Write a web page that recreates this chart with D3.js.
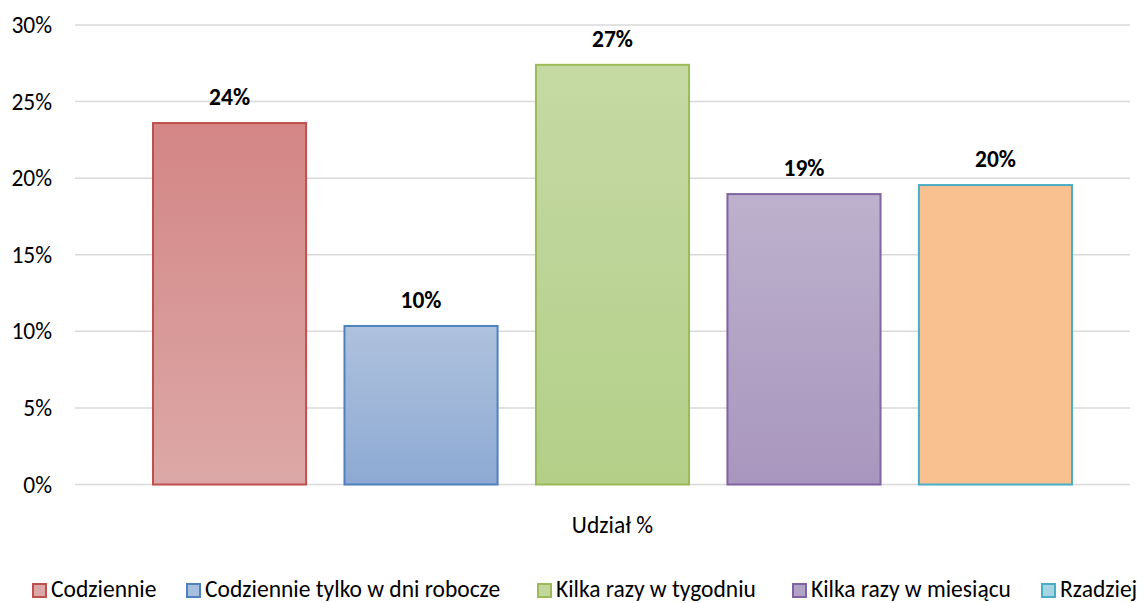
<!DOCTYPE html>
<html><head><meta charset="utf-8">
<script src="https://cdn.jsdelivr.net/npm/d3@7"></script>
<style>
html,body{margin:0;padding:0;background:#fff;}
svg text{font-family:Carlito,Calibri,Lato,sans-serif;}
</style></head>
<body><svg id="c" width="1147" height="603"></svg>
<script>
const categories = ["Codziennie","Codziennie tylko w dni robocze","Kilka razy w tygodniu","Kilka razy w miesiącu","Rzadziej"];
const values = [23.6, 10.35, 27.4, 18.96, 19.55];
const yTicks = [0,5,10,15,20,25,30];
const axisLabel = "Udział %";
const topColors = ["#d38685","#afc2de","#c5d9a4","#bdb1cd","#f9c18f"];
const bottomColors = ["#dca8a7","#8da9d3","#b3cf88","#a996be","#f9c18f"];
const strokeColors = ["#c0504d","#4f81bd","#9bbb59","#8064a2","#4bacc6"];
const legendFills = ["#dca8a7","#a7bfde","#c3d69b","#b3a2c7","#a5d5e2"];

const FS = 23.5;
const svg = d3.select("#c");
const y = d3.scaleLinear().domain([0,30]).range([484.5,25]);
const x = d3.scaleBand().domain(categories).range([152,1073]).paddingInner(0.19).paddingOuter(0);

const defs = svg.append("defs");
categories.forEach((c,i)=>{
  const g = defs.append("linearGradient").attr("id","g"+i).attr("x1",0).attr("y1",0).attr("x2",0).attr("y2",1);
  g.append("stop").attr("offset","0%").attr("stop-color",topColors[i]);
  g.append("stop").attr("offset","100%").attr("stop-color",bottomColors[i]);
});

// gridlines
svg.append("g").selectAll("line").data(yTicks).join("line")
  .attr("x1",75).attr("x2",1130)
  .attr("y1",d=>y(d)).attr("y2",d=>y(d))
  .attr("stroke","#d9d9d9").attr("stroke-width",1.5);

// y axis labels
const yAxis = d3.axisLeft(y).tickValues(yTicks).tickFormat(d=>d+"%").tickSize(0).tickPadding(0);
const ya = svg.append("g").attr("transform","translate(52,0)").call(yAxis);
ya.select(".domain").remove();
ya.selectAll("text").attr("font-size",FS).attr("fill","#000")
  .style("font-family","Carlito,Calibri,Lato,sans-serif");

// bars
svg.append("g").selectAll("rect").data(values).join("rect")
  .attr("x",(d,i)=>x(categories[i])+1)
  .attr("width",x.bandwidth()-2)
  .attr("y",d=>y(d))
  .attr("height",d=>y(0)-y(d))
  .attr("fill",(d,i)=>"url(#g"+i+")")
  .attr("stroke",(d,i)=>strokeColors[i]).attr("stroke-width",2);

// value labels
svg.append("g").selectAll("text").data(values).join("text")
  .attr("x",(d,i)=>x(categories[i])+x.bandwidth()/2)
  .attr("y",d=>y(d)-18)
  .attr("text-anchor","middle").attr("font-size",FS).attr("font-weight","bold")
  .text(d=>Math.round(d)+"%");

// category label
svg.append("text").attr("x",(x.range()[0]+x.range()[1])/2).attr("y",533).attr("text-anchor","middle")
  .attr("font-size",FS).text(axisLabel);

// legend
const legendX = [32,186,537,792,1041];
const lg = svg.append("g").selectAll("g").data(categories).join("g")
  .attr("transform",(d,i)=>`translate(${legendX[i]},583)`);
lg.append("rect").attr("x",1).attr("y",1).attr("width",13).attr("height",13)
  .attr("fill",(d,i)=>legendFills[i]).attr("stroke",(d,i)=>strokeColors[i]).attr("stroke-width",2);
lg.append("text").attr("x",19).attr("y",14).attr("font-size",FS).text(d=>d);
</script></body></html>
